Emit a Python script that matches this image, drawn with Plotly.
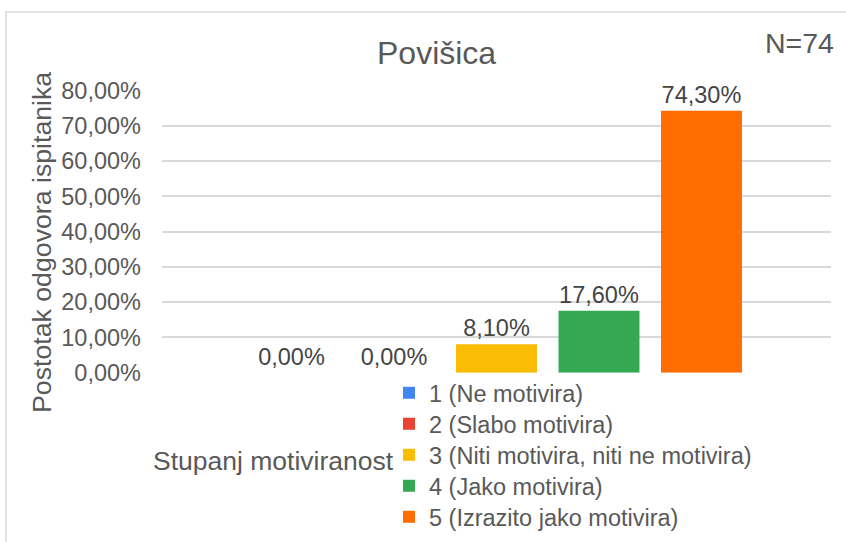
import plotly.graph_objects as go

categories = ["1 (Ne motivira)", "2 (Slabo motivira)", "3 (Niti motivira, niti ne motivira)",
              "4 (Jako motivira)", "5 (Izrazito jako motivira)"]
values = [0.0, 0.0, 0.081, 0.176, 0.743]
colors = ["#4285F4", "#EA4335", "#FBBC04", "#34A853", "#FF6D01"]
group_label = "Stupanj motiviranost"

W, H = 846, 542
L, R, T, B = 162, 831, 90.7, 372.7

# paper == whole figure (zero margins); plot area placed through axis domains
def fx(x):
    return x / W

def fy(y):
    return 1 - y / H

FONT = "Liberation Sans, Arial, sans-serif"
GRAY = "#595959"

legend_ids = ["legend", "legend2", "legend3", "legend4", "legend5"]
legend_centers = [393, 424, 455, 486, 517]

fig = go.Figure()
for name, v, c, lid in zip(categories, values, colors, legend_ids):
    fig.add_trace(go.Bar(
        x=[group_label], y=[v], name=name, marker=dict(color=c, line=dict(width=0)),
        texttemplate="%{y:.2%}", textposition="outside", cliponaxis=False,
        constraintext="none", legend=lid,
        textfont=dict(family=FONT, size=23.5, color="#444444"),
        hoverinfo="skip",
    ))

legend_layout = {}
for lid, ycen in zip(legend_ids, legend_centers):
    legend_layout[lid] = dict(
        x=fx(389), y=fy(ycen - 22), xanchor="left", yanchor="top",
        font=dict(family=FONT, size=23.5, color=GRAY),
        bgcolor="rgba(0,0,0,0)", borderwidth=0,
        itemclick=False, itemdoubleclick=False,
    )

fig.update_layout(
    width=W, height=H,
    margin=dict(l=0, r=0, t=0, b=0, pad=0, autoexpand=False),
    paper_bgcolor="white", plot_bgcolor="white",
    separators=",.",
    barmode="group", bargap=0.234, bargroupgap=0.21,
    font=dict(family=FONT, color=GRAY),
    showlegend=True,
    xaxis=dict(domain=[L / W, R / W], showticklabels=False, showgrid=False,
               zeroline=False, showline=False, ticks="", automargin=False),
    yaxis=dict(domain=[1 - B / H, 1 - T / H], automargin=False,
               range=[0, 0.8], dtick=0.1, tick0=0, tickformat=".2%",
               showgrid=True, gridcolor="#d9d9d9", gridwidth=1.5,
               zeroline=False, showline=False, ticks="",
               ticklabelstandoff=20,
               tickfont=dict(family=FONT, size=23.5, color=GRAY)),
    shapes=[dict(type="rect", xref="paper", yref="paper",
                 x0=fx(6), x1=fx(860), y0=fy(560), y1=fy(12),
                 line=dict(color="#d9d9d9", width=1.5), fillcolor="rgba(0,0,0,0)",
                 layer="below")],
    annotations=[
        dict(text="Povišica", x=fx(436), y=fy(53), xref="paper", yref="paper",
             xanchor="center", yanchor="middle", showarrow=False,
             font=dict(family=FONT, size=32, color=GRAY)),
        dict(text="N=74", x=fx(836), y=fy(43), xref="paper", yref="paper",
             xanchor="right", yanchor="middle", showarrow=False,
             font=dict(family=FONT, size=28.5, color=GRAY)),
        dict(text="Postotak odgovora ispitanika", x=fx(42), y=fy(243),
             xref="paper", yref="paper", xanchor="center", yanchor="middle",
             textangle=-90, showarrow=False,
             font=dict(family=FONT, size=26.7, color=GRAY)),
        dict(text=group_label, x=fx(396), y=fy(461), xref="paper", yref="paper",
             xanchor="right", yanchor="middle", showarrow=False,
             font=dict(family=FONT, size=26.5, color=GRAY)),
    ],
    **legend_layout,
)

fig.write_html("out.html", config={"displayModeBar": False},
               post_script="document.body.style.margin='0';")
